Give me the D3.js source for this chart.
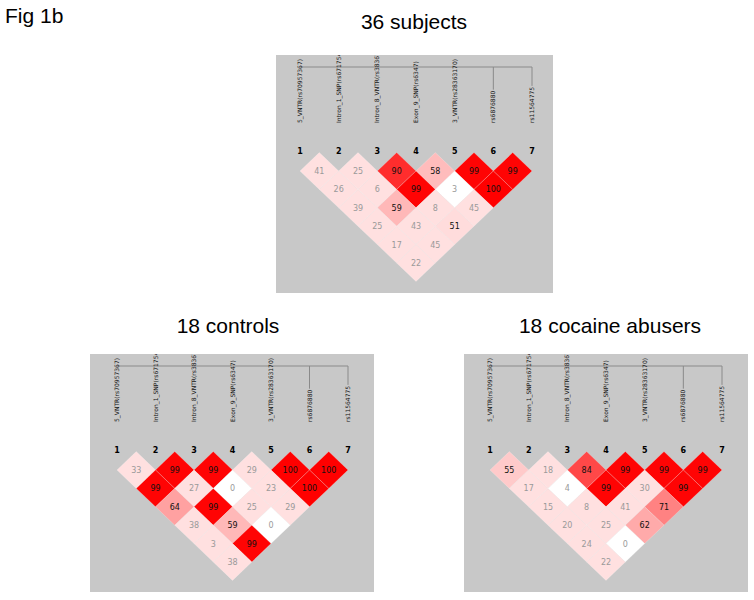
<!DOCTYPE html>
<html>
<head>
<meta charset="utf-8">
<script src="https://cdn.jsdelivr.net/npm/d3@7"></script>
<style>
  html, body { margin: 0; padding: 0; background: #fff; }
  svg { display: block; }
</style>
</head>
<body>
<svg id="chart" width="754" height="600"></svg>
<script>
// ---------------- DATA ----------------
const figureLabel = "Fig 1b";
const markerNumbers = ["1", "2", "3", "4", "5", "6", "7"];
const markerNames = [
  "5_VNTR(rs70957367)",
  "Intron_1_SNP(rs6717541)",
  "Intron_8_VNTR(rs3836790)",
  "Exon_9_SNP(rs6347)",
  "3_VNTR(rs28363170)",
  "rs6876880",
  "rs11564775"
];
const panelTitles = ["36 subjects", "18 controls", "18 cocaine abusers"];

// D' x 100, row k holds pairs (i, i+k)
const dprimeAll = [
  [41, 25, 90, 58, 99, 99],
  [26, 6, 99, 3, 100],
  [39, 59, 8, 45],
  [25, 43, 51],
  [17, 45],
  [22]
];
const dprimeControls = [
  [33, 99, 99, 29, 100, 100],
  [99, 27, 0, 23, 100],
  [64, 99, 25, 29],
  [38, 59, 0],
  [3, 99],
  [38]
];
const dprimeCocaine = [
  [55, 18, 84, 99, 99, 99],
  [17, 4, 99, 30, 99],
  [15, 8, 41, 71],
  [20, 25, 62],
  [24, 0],
  [22]
];
// pairs with non-significant LOD (drawn white)
const lowLodAll = ["4-6"];
const lowLodControls = ["3-5", "3-7"];
const lowLodCocaine = ["2-4", "2-7"];

// ---------------- LAYOUT ----------------
const svg = d3.select("#chart");
svg.append("text")
  .attr("x", 5).attr("y", 23)
  .attr("font-family", "Liberation Sans, Arial, sans-serif")
  .attr("font-size", 21)
  .attr("fill", "#000")
  .text(figureLabel);

const panels = [
  { title: panelTitles[0], data: dprimeAll, low: lowLodAll,
    x: 276, y: 55, w: 277, h: 238, m0: 24, m1: 256, titleX: 414, titleY: 29 },
  { title: panelTitles[1], data: dprimeControls, low: lowLodControls,
    x: 90, y: 354, w: 284, h: 238, m0: 27, m1: 258, titleX: 228, titleY: 333 },
  { title: panelTitles[2], data: dprimeCocaine, low: lowLodCocaine,
    x: 464, y: 354, w: 284, h: 238, m0: 26, m1: 258, titleX: 610, titleY: 333 }
];

function cellColor(d, low) {
  if (low) return "#ffffff";
  const v = d / 100;
  if (v < 0.5) return "rgb(255,224,224)";
  const g = Math.max(0, Math.round(224 * (1 - v) * 2));
  return `rgb(255,${g},${g})`;
}

panels.forEach((p, pi) => {
  svg.append("text")
    .attr("x", p.titleX).attr("y", p.titleY)
    .attr("text-anchor", "middle")
    .attr("font-family", "Liberation Sans, Arial, sans-serif")
    .attr("font-size", 21)
    .attr("fill", "#000")
    .text(p.title);

  const clipId = "clip" + pi;
  svg.append("clipPath").attr("id", clipId)
    .append("rect").attr("x", p.x).attr("y", p.y).attr("width", p.w).attr("height", p.h);

  const g = svg.append("g").attr("clip-path", `url(#${clipId})`);
  g.append("rect")
    .attr("x", p.x).attr("y", p.y).attr("width", p.w).attr("height", p.h)
    .attr("fill", "#c8c8c8");

  const gx = g.append("g").attr("transform", `translate(${p.x},${p.y})`);

  const xM = d3.scaleLinear().domain([1, 7]).range([p.m0, p.m1]);
  const half = (p.m1 - p.m0) / 12;
  const yRow = d3.scaleLinear().domain([1, 6]).range([116, 116 + 5 * 18.4]);
  const rowStep = 18.4;

  // physical position line
  const lineY = 12;
  gx.append("line")
    .attr("x1", xM(1)).attr("x2", xM(7))
    .attr("y1", lineY).attr("y2", lineY)
    .attr("stroke", "#8a8a8a").attr("stroke-width", 1);

  // marker name labels (rotated)
  const labelBase = 68;
  markerNames.forEach((name, i) => {
    const x = xM(i + 1);
    const t = gx.append("text")
      .attr("transform", `translate(${x + 2},${labelBase}) rotate(-90)`)
      .attr("font-family", "DejaVu Sans, sans-serif")
      .attr("font-size", 6)
      .attr("fill", "#111")
      .text(name);
    const len = t.node().getComputedTextLength();
    const top = labelBase - len;
    if (top > lineY) {
      gx.append("line")
        .attr("x1", x).attr("x2", x)
        .attr("y1", lineY).attr("y2", top - 1)
        .attr("stroke", "#8a8a8a").attr("stroke-width", 1);
    }
  });

  // marker numbers
  gx.selectAll("text.num").data(markerNumbers).enter().append("text")
    .attr("class", "num")
    .attr("x", (d, i) => xM(i + 1))
    .attr("y", 99)
    .attr("text-anchor", "middle")
    .attr("font-family", "DejaVu Sans, sans-serif")
    .attr("font-size", 8)
    .attr("font-weight", "bold")
    .attr("fill", "#000")
    .text(d => d);

  // cells
  const cells = [];
  p.data.forEach((row, ri) => {
    const k = ri + 1;
    row.forEach((v, ci) => {
      const i = ci + 1, j = ci + 1 + k;
      cells.push({ i, j, k, v, low: p.low.includes(`${i}-${j}`) });
    });
  });

  const cg = gx.selectAll("g.cell").data(cells).enter().append("g")
    .attr("class", "cell")
    .attr("transform", d => `translate(${(xM(d.i) + xM(d.j)) / 2},${yRow(d.k)})`);

  cg.append("path")
    .attr("d", `M0,${-rowStep} L${half},0 L0,${rowStep} L${-half},0 Z`)
    .attr("fill", d => cellColor(d.v, d.low))
    .attr("stroke", "rgba(255,255,255,0.35)")
    .attr("stroke-width", 0.6);

  cg.append("text")
    .attr("text-anchor", "middle")
    .attr("y", 3)
    .attr("font-family", "DejaVu Sans, sans-serif")
    .attr("font-size", 8)
    .attr("fill", d => (!d.low && d.v >= 50) ? "#111" : "#9a9a9a")
    .text(d => d.v);
});
</script>
</body>
</html>
